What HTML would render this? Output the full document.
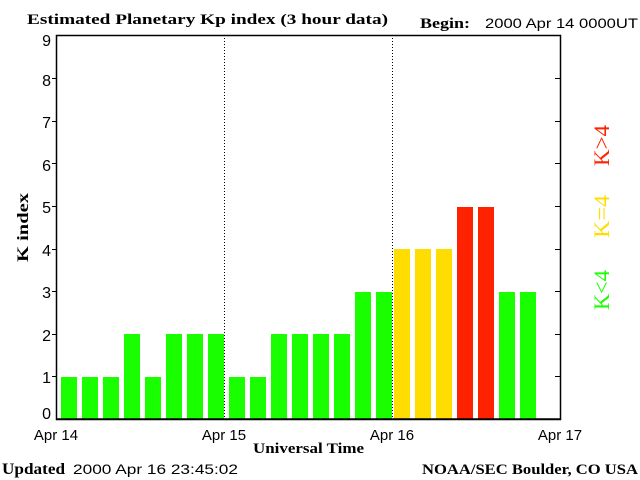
<!DOCTYPE html>
<html><head><style>body{margin:0;background:#fff}svg{display:block}</style></head><body>
<svg width="640" height="480" xmlns="http://www.w3.org/2000/svg">
<rect width="640" height="480" fill="#fff"/>
<g font-family="Liberation Sans, sans-serif" font-size="14" fill="#000">
<text x="27" y="24" font-family="Liberation Serif, serif" font-weight="bold" font-size="15" textLength="361" lengthAdjust="spacingAndGlyphs">Estimated Planetary Kp index (3 hour data)</text>
<text x="420" y="28" font-family="Liberation Serif, serif" font-weight="bold" font-size="15" textLength="50" lengthAdjust="spacingAndGlyphs">Begin:</text>
<text x="485" y="28" textLength="153" lengthAdjust="spacingAndGlyphs">2000 Apr 14 0000UT</text>
<text x="2" y="474" font-family="Liberation Serif, serif" font-weight="bold" font-size="16" textLength="63" lengthAdjust="spacingAndGlyphs">Updated</text>
<text x="73" y="474" textLength="165" lengthAdjust="spacingAndGlyphs">2000 Apr 16 23:45:02</text>
<text x="422" y="474" font-family="Liberation Serif, serif" font-weight="bold" font-size="15" textLength="216" lengthAdjust="spacingAndGlyphs">NOAA/SEC Boulder, CO USA</text>
<text x="253" y="453" font-family="Liberation Serif, serif" font-weight="bold" font-size="15" textLength="111" lengthAdjust="spacingAndGlyphs">Universal Time</text>
<text transform="translate(28,262) rotate(-90)" font-family="Liberation Serif, serif" font-weight="bold" font-size="16" textLength="69" lengthAdjust="spacingAndGlyphs">K index</text>
<g text-anchor="middle" font-size="15">
<text x="56" y="440">Apr 14</text><text x="224" y="440">Apr 15</text><text x="392" y="440">Apr 16</text><text x="560" y="440">Apr 17</text>
</g>
<g text-anchor="end" font-size="16">
<text x="51" y="419">0</text><text x="51" y="383">1</text><text x="51" y="341">2</text><text x="51" y="298">3</text><text x="51" y="256">4</text><text x="51" y="213">5</text><text x="51" y="171">6</text><text x="51" y="128">7</text><text x="51" y="86">8</text><text x="51" y="46">9</text>
</g>
<g font-family="Liberation Serif, serif" font-size="22">
<text transform="translate(609,310) rotate(-90)" fill="#1aff00" textLength="40" lengthAdjust="spacingAndGlyphs">K&lt;4</text>
<text transform="translate(609,238) rotate(-90)" fill="#ffdd00" textLength="43" lengthAdjust="spacingAndGlyphs">K=4</text>
<text transform="translate(609,166) rotate(-90)" fill="#ff2200" textLength="41" lengthAdjust="spacingAndGlyphs">K&gt;4</text>
</g>
</g>
<line x1="224.5" y1="35" x2="224.5" y2="419" stroke="#000" stroke-dasharray="1,2"/>
<line x1="392.5" y1="35" x2="392.5" y2="419" stroke="#000" stroke-dasharray="1,2"/>
<rect x="56.5" y="35.5" width="504" height="384" fill="none" stroke="#000" stroke-width="1.5"/>
<g stroke="#000">
<line x1="52" y1="376.5" x2="56" y2="376.5"/><line x1="52" y1="334.5" x2="56" y2="334.5"/><line x1="52" y1="291.5" x2="56" y2="291.5"/><line x1="52" y1="249.5" x2="56" y2="249.5"/><line x1="52" y1="206.5" x2="56" y2="206.5"/><line x1="52" y1="163.5" x2="56" y2="163.5"/><line x1="52" y1="121.5" x2="56" y2="121.5"/><line x1="52" y1="78.5" x2="56" y2="78.5"/>
<line x1="555" y1="376.5" x2="560" y2="376.5"/><line x1="555" y1="334.5" x2="560" y2="334.5"/><line x1="555" y1="291.5" x2="560" y2="291.5"/><line x1="555" y1="249.5" x2="560" y2="249.5"/><line x1="555" y1="206.5" x2="560" y2="206.5"/><line x1="555" y1="163.5" x2="560" y2="163.5"/><line x1="555" y1="121.5" x2="560" y2="121.5"/><line x1="555" y1="78.5" x2="560" y2="78.5"/>
</g>
<g>
<rect x="61" y="377" width="16" height="42" fill="#1aff00"/>
<rect x="82" y="377" width="16" height="42" fill="#1aff00"/>
<rect x="103" y="377" width="16" height="42" fill="#1aff00"/>
<rect x="124" y="334" width="16" height="85" fill="#1aff00"/>
<rect x="145" y="377" width="16" height="42" fill="#1aff00"/>
<rect x="166" y="334" width="16" height="85" fill="#1aff00"/>
<rect x="187" y="334" width="16" height="85" fill="#1aff00"/>
<rect x="208" y="334" width="16" height="85" fill="#1aff00"/>
<rect x="229" y="377" width="16" height="42" fill="#1aff00"/>
<rect x="250" y="377" width="16" height="42" fill="#1aff00"/>
<rect x="271" y="334" width="16" height="85" fill="#1aff00"/>
<rect x="292" y="334" width="16" height="85" fill="#1aff00"/>
<rect x="313" y="334" width="16" height="85" fill="#1aff00"/>
<rect x="334" y="334" width="16" height="85" fill="#1aff00"/>
<rect x="355" y="292" width="16" height="127" fill="#1aff00"/>
<rect x="376" y="292" width="16" height="127" fill="#1aff00"/>
<rect x="394" y="249" width="16" height="170" fill="#ffdd00"/>
<rect x="415" y="249" width="16" height="170" fill="#ffdd00"/>
<rect x="436" y="249" width="16" height="170" fill="#ffdd00"/>
<rect x="457" y="207" width="16" height="212" fill="#ff2200"/>
<rect x="478" y="207" width="16" height="212" fill="#ff2200"/>
<rect x="499" y="292" width="16" height="127" fill="#1aff00"/>
<rect x="520" y="292" width="16" height="127" fill="#1aff00"/>
</g>
<line x1="56" y1="419" x2="561" y2="419" stroke="#000" stroke-width="1.5"/>
</svg>
</body></html>
